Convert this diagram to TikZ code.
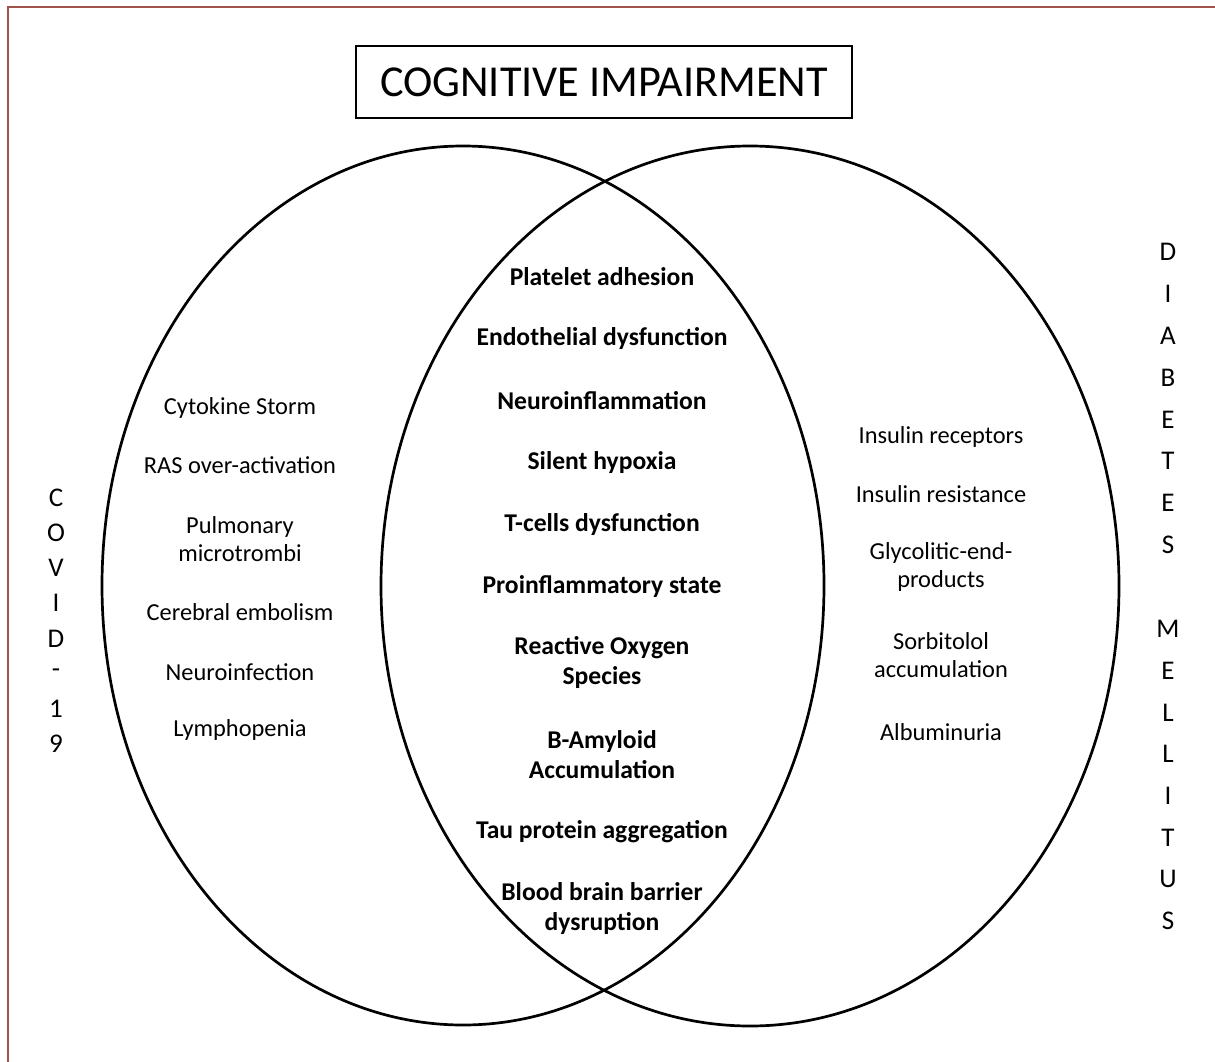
\documentclass[tikz,border=0pt]{standalone}
\usepackage{fontspec}
\setmainfont{Carlito}
\definecolor{framecol}{HTML}{A0524D}
\begin{document}
\begin{tikzpicture}[x=1pt,y=-1pt,
  side/.style={font=\fontsize{24.4}{28.5}\selectfont, align=center, inner sep=0pt},
  mid/.style={font=\fontsize{25.6}{30}\selectfont\bfseries, align=center, inner sep=0pt},
  vlet/.style={font=\fontsize{27}{27}\selectfont, inner sep=0pt},
  ring/.style={draw=black, line width=2.7pt}]
\useasboundingbox (0,0) rectangle (1215,1062);
\draw[framecol, line width=2pt] (8,1062) -- (8,7) -- (1215,7);
% title
\node[draw, line width=2pt, minimum width=496pt, minimum height=72pt, inner sep=0pt,
      font=\fontsize{44.2}{44}\selectfont] (title) at (604,82) {COGNITIVE IMPAIRMENT};
% circles
\draw[ring] (463,585.5) ellipse [x radius=361, y radius=439.5];
\draw[ring] (750,586) ellipse [x radius=369, y radius=440];
% left
\node[side] (l1) at (240,408) {Cytokine Storm};
\node[side] (l2) at (240,465) {RAS over-activation};
\node[side] (l3) at (240,539) {Pulmonary\\microtrombi};
\node[side] (l4) at (240,612) {Cerebral embolism};
\node[side] (l5) at (240,672) {Neuroinfection};
\node[side] (l6) at (240,730) {Lymphopenia};
% centre
\node[mid] (c1) at (602,277) {Platelet adhesion};
\node[mid] (c2) at (602,339) {Endothelial dysfunction};
\node[mid] (c3) at (602,401) {Neuroinflammation};
\node[mid] (c4) at (602,463) {Silent hypoxia};
\node[mid] (c5) at (602,525) {T-cells dysfunction};
\node[mid] (c6) at (602,587) {Proinflammatory state};
\node[mid] (c7) at (602,663) {Reactive Oxygen\\Species};
\node[mid] (c8) at (602,755) {B-Amyloid\\Accumulation};
\node[mid] (c9) at (602,832) {Tau protein aggregation};
\node[mid] (c10) at (602,909) {Blood brain barrier\\dysruption};
% right
\node[side] (r1) at (941,437) {Insulin receptors};
\node[side] (r2) at (941,494) {Insulin resistance};
\node[side] (r3) at (941,567) {Glycolitic-end-\\products};
\node[side] (r4) at (941,655) {Sorbitolol\\accumulation};
\node[side] (r5) at (941,732) {Albuminuria};
% COVID-19 vertical
\foreach \t [count=\i] in {C,O,V,I,D,-,1,9}
  \node[vlet] (cv\i) at (56,{498+35.1*(\i-1)}) {\t};
% DIABETES MELLITUS vertical
\foreach \t [count=\i] in {D,I,A,B,E,T,E,S}
  \node[vlet] (da\i) at (1168,{252+41.85*(\i-1)}) {\t};
\foreach \t [count=\i] in {M,E,L,L,I,T,U,S}
  \node[vlet] (me\i) at (1168,{629+41.7*(\i-1)}) {\t};
\end{tikzpicture}
\end{document}
